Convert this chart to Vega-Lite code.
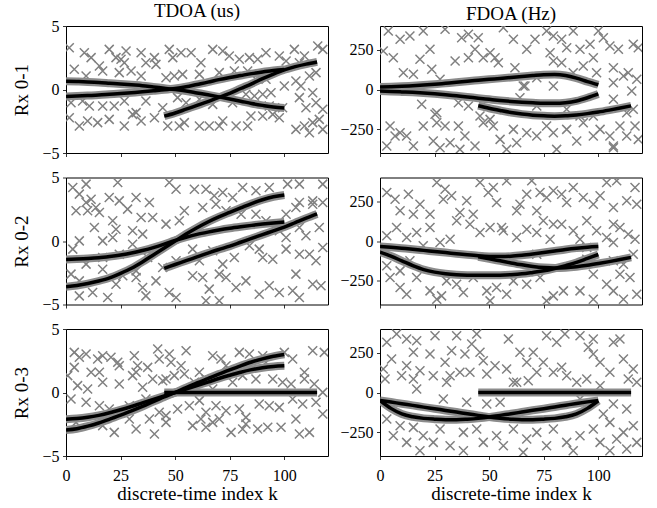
{
"$schema":"https://vega.github.io/schema/vega-lite/v6.json",
"padding":{"left":12,"top":1,"right":14,"bottom":4},
"config":{
"font":"Liberation Serif",
"view":{"stroke":"black","strokeWidth":1},
"axis":{"grid":false,"domain":false,"tickColor":"black","tickSize":3.5,"tickWidth":0.8,"labelColor":"black","labelFontSize":16,"labelFont":"Liberation Serif","labelPadding":3.5,"titleFont":"Liberation Serif","titleFontSize":19,"titleFontWeight":"normal","titleColor":"black"},
"axisY":{"titlePadding":10},
"axisX":{"titlePadding":1,"labelFlush":false,"labelPadding":8},
"title":{"font":"Liberation Serif","fontSize":19,"fontWeight":"normal","color":"black","offset":-3,"anchor":"middle"}
},
"datasets":{
"tracks":[
{"p":"a","t":"A","k":0,"v":0.65},{"p":"a","t":"A","k":5,"v":0.63},{"p":"a","t":"A","k":10,"v":0.6},{"p":"a","t":"A","k":15,"v":0.56},{"p":"a","t":"A","k":20,"v":0.5},{"p":"a","t":"A","k":25,"v":0.44},{"p":"a","t":"A","k":30,"v":0.37},{"p":"a","t":"A","k":35,"v":0.3},{"p":"a","t":"A","k":40,"v":0.2},{"p":"a","t":"A","k":45,"v":0.1},{"p":"a","t":"A","k":50,"v":0},{"p":"a","t":"A","k":55,"v":-0.12},{"p":"a","t":"A","k":60,"v":-0.27},{"p":"a","t":"A","k":65,"v":-0.42},{"p":"a","t":"A","k":70,"v":-0.58},{"p":"a","t":"A","k":75,"v":-0.75},{"p":"a","t":"A","k":80,"v":-0.92},{"p":"a","t":"A","k":85,"v":-1.1},{"p":"a","t":"A","k":90,"v":-1.25},{"p":"a","t":"A","k":95,"v":-1.38},{"p":"a","t":"A","k":100,"v":-1.45},
{"p":"a","t":"B","k":0,"v":-0.55},{"p":"a","t":"B","k":5,"v":-0.52},{"p":"a","t":"B","k":10,"v":-0.48},{"p":"a","t":"B","k":15,"v":-0.44},{"p":"a","t":"B","k":20,"v":-0.38},{"p":"a","t":"B","k":25,"v":-0.32},{"p":"a","t":"B","k":30,"v":-0.25},{"p":"a","t":"B","k":35,"v":-0.18},{"p":"a","t":"B","k":40,"v":-0.1},{"p":"a","t":"B","k":45,"v":-0.02},{"p":"a","t":"B","k":50,"v":0.08},{"p":"a","t":"B","k":55,"v":0.22},{"p":"a","t":"B","k":60,"v":0.4},{"p":"a","t":"B","k":65,"v":0.58},{"p":"a","t":"B","k":70,"v":0.78},{"p":"a","t":"B","k":75,"v":0.95},{"p":"a","t":"B","k":80,"v":1.1},{"p":"a","t":"B","k":85,"v":1.25},{"p":"a","t":"B","k":90,"v":1.38},{"p":"a","t":"B","k":95,"v":1.5},{"p":"a","t":"B","k":100,"v":1.57},
{"p":"a","t":"C","k":45,"v":-2.1},{"p":"a","t":"C","k":50,"v":-1.85},{"p":"a","t":"C","k":55,"v":-1.55},{"p":"a","t":"C","k":60,"v":-1.25},{"p":"a","t":"C","k":65,"v":-0.95},{"p":"a","t":"C","k":70,"v":-0.62},{"p":"a","t":"C","k":75,"v":-0.3},{"p":"a","t":"C","k":80,"v":0.08},{"p":"a","t":"C","k":85,"v":0.45},{"p":"a","t":"C","k":90,"v":0.85},{"p":"a","t":"C","k":95,"v":1.22},{"p":"a","t":"C","k":100,"v":1.55},{"p":"a","t":"C","k":105,"v":1.8},{"p":"a","t":"C","k":110,"v":2},{"p":"a","t":"C","k":115,"v":2.17},
{"p":"b","t":"D","k":0,"v":15},{"p":"b","t":"D","k":5,"v":17},{"p":"b","t":"D","k":10,"v":20},{"p":"b","t":"D","k":15,"v":24},{"p":"b","t":"D","k":20,"v":28},{"p":"b","t":"D","k":25,"v":33},{"p":"b","t":"D","k":30,"v":39},{"p":"b","t":"D","k":35,"v":45},{"p":"b","t":"D","k":40,"v":52},{"p":"b","t":"D","k":45,"v":58},{"p":"b","t":"D","k":50,"v":64},{"p":"b","t":"D","k":55,"v":70},{"p":"b","t":"D","k":60,"v":76},{"p":"b","t":"D","k":65,"v":82},{"p":"b","t":"D","k":70,"v":88},{"p":"b","t":"D","k":75,"v":93},{"p":"b","t":"D","k":80,"v":94},{"p":"b","t":"D","k":85,"v":88},{"p":"b","t":"D","k":90,"v":72},{"p":"b","t":"D","k":95,"v":50},{"p":"b","t":"D","k":100,"v":30},
{"p":"b","t":"E","k":0,"v":-10},{"p":"b","t":"E","k":5,"v":-12},{"p":"b","t":"E","k":10,"v":-15},{"p":"b","t":"E","k":15,"v":-18},{"p":"b","t":"E","k":20,"v":-22},{"p":"b","t":"E","k":25,"v":-27},{"p":"b","t":"E","k":30,"v":-33},{"p":"b","t":"E","k":35,"v":-40},{"p":"b","t":"E","k":40,"v":-47},{"p":"b","t":"E","k":45,"v":-55},{"p":"b","t":"E","k":50,"v":-62},{"p":"b","t":"E","k":55,"v":-69},{"p":"b","t":"E","k":60,"v":-75},{"p":"b","t":"E","k":65,"v":-80},{"p":"b","t":"E","k":70,"v":-84},{"p":"b","t":"E","k":75,"v":-87},{"p":"b","t":"E","k":80,"v":-87},{"p":"b","t":"E","k":85,"v":-83},{"p":"b","t":"E","k":90,"v":-72},{"p":"b","t":"E","k":95,"v":-52},{"p":"b","t":"E","k":100,"v":-28},
{"p":"b","t":"F","k":45,"v":-102},{"p":"b","t":"F","k":50,"v":-118},{"p":"b","t":"F","k":55,"v":-132},{"p":"b","t":"F","k":60,"v":-145},{"p":"b","t":"F","k":65,"v":-155},{"p":"b","t":"F","k":70,"v":-162},{"p":"b","t":"F","k":75,"v":-166},{"p":"b","t":"F","k":80,"v":-168},{"p":"b","t":"F","k":85,"v":-166},{"p":"b","t":"F","k":90,"v":-160},{"p":"b","t":"F","k":95,"v":-152},{"p":"b","t":"F","k":100,"v":-142},{"p":"b","t":"F","k":105,"v":-130},{"p":"b","t":"F","k":110,"v":-117},{"p":"b","t":"F","k":115,"v":-103},
{"p":"c","t":"G","k":0,"v":-1.45},{"p":"c","t":"G","k":5,"v":-1.42},{"p":"c","t":"G","k":10,"v":-1.38},{"p":"c","t":"G","k":15,"v":-1.32},{"p":"c","t":"G","k":20,"v":-1.22},{"p":"c","t":"G","k":25,"v":-1.1},{"p":"c","t":"G","k":30,"v":-0.95},{"p":"c","t":"G","k":35,"v":-0.75},{"p":"c","t":"G","k":40,"v":-0.52},{"p":"c","t":"G","k":45,"v":-0.25},{"p":"c","t":"G","k":50,"v":0.05},{"p":"c","t":"G","k":55,"v":0.3},{"p":"c","t":"G","k":60,"v":0.52},{"p":"c","t":"G","k":65,"v":0.7},{"p":"c","t":"G","k":70,"v":0.86},{"p":"c","t":"G","k":75,"v":1},{"p":"c","t":"G","k":80,"v":1.12},{"p":"c","t":"G","k":85,"v":1.23},{"p":"c","t":"G","k":90,"v":1.33},{"p":"c","t":"G","k":95,"v":1.42},{"p":"c","t":"G","k":100,"v":1.5},
{"p":"c","t":"H","k":0,"v":-3.6},{"p":"c","t":"H","k":5,"v":-3.5},{"p":"c","t":"H","k":10,"v":-3.35},{"p":"c","t":"H","k":15,"v":-3.15},{"p":"c","t":"H","k":20,"v":-2.9},{"p":"c","t":"H","k":25,"v":-2.55},{"p":"c","t":"H","k":30,"v":-2.15},{"p":"c","t":"H","k":35,"v":-1.65},{"p":"c","t":"H","k":40,"v":-1.1},{"p":"c","t":"H","k":45,"v":-0.55},{"p":"c","t":"H","k":50,"v":0},{"p":"c","t":"H","k":55,"v":0.55},{"p":"c","t":"H","k":60,"v":1.05},{"p":"c","t":"H","k":65,"v":1.5},{"p":"c","t":"H","k":70,"v":1.9},{"p":"c","t":"H","k":75,"v":2.25},{"p":"c","t":"H","k":80,"v":2.6},{"p":"c","t":"H","k":85,"v":2.95},{"p":"c","t":"H","k":90,"v":3.25},{"p":"c","t":"H","k":95,"v":3.48},{"p":"c","t":"H","k":100,"v":3.62},
{"p":"c","t":"I","k":45,"v":-2.15},{"p":"c","t":"I","k":50,"v":-1.85},{"p":"c","t":"I","k":55,"v":-1.55},{"p":"c","t":"I","k":60,"v":-1.25},{"p":"c","t":"I","k":65,"v":-0.95},{"p":"c","t":"I","k":70,"v":-0.67},{"p":"c","t":"I","k":75,"v":-0.4},{"p":"c","t":"I","k":80,"v":-0.1},{"p":"c","t":"I","k":85,"v":0.2},{"p":"c","t":"I","k":90,"v":0.5},{"p":"c","t":"I","k":95,"v":0.8},{"p":"c","t":"I","k":100,"v":1.1},{"p":"c","t":"I","k":105,"v":1.45},{"p":"c","t":"I","k":110,"v":1.8},{"p":"c","t":"I","k":115,"v":2.13},
{"p":"d","t":"J","k":0,"v":-35},{"p":"d","t":"J","k":5,"v":-40},{"p":"d","t":"J","k":10,"v":-46},{"p":"d","t":"J","k":15,"v":-52},{"p":"d","t":"J","k":20,"v":-59},{"p":"d","t":"J","k":25,"v":-66},{"p":"d","t":"J","k":30,"v":-73},{"p":"d","t":"J","k":35,"v":-80},{"p":"d","t":"J","k":40,"v":-87},{"p":"d","t":"J","k":45,"v":-93},{"p":"d","t":"J","k":50,"v":-97},{"p":"d","t":"J","k":55,"v":-98},{"p":"d","t":"J","k":60,"v":-96},{"p":"d","t":"J","k":65,"v":-90},{"p":"d","t":"J","k":70,"v":-82},{"p":"d","t":"J","k":75,"v":-73},{"p":"d","t":"J","k":80,"v":-63},{"p":"d","t":"J","k":85,"v":-53},{"p":"d","t":"J","k":90,"v":-45},{"p":"d","t":"J","k":95,"v":-39},{"p":"d","t":"J","k":100,"v":-35},
{"p":"d","t":"K","k":0,"v":-70},{"p":"d","t":"K","k":5,"v":-95},{"p":"d","t":"K","k":10,"v":-125},{"p":"d","t":"K","k":15,"v":-155},{"p":"d","t":"K","k":20,"v":-180},{"p":"d","t":"K","k":25,"v":-196},{"p":"d","t":"K","k":30,"v":-206},{"p":"d","t":"K","k":35,"v":-212},{"p":"d","t":"K","k":40,"v":-215},{"p":"d","t":"K","k":45,"v":-216},{"p":"d","t":"K","k":50,"v":-216},{"p":"d","t":"K","k":55,"v":-215},{"p":"d","t":"K","k":60,"v":-212},{"p":"d","t":"K","k":65,"v":-207},{"p":"d","t":"K","k":70,"v":-198},{"p":"d","t":"K","k":75,"v":-188},{"p":"d","t":"K","k":80,"v":-173},{"p":"d","t":"K","k":85,"v":-155},{"p":"d","t":"K","k":90,"v":-135},{"p":"d","t":"K","k":95,"v":-110},{"p":"d","t":"K","k":100,"v":-85},
{"p":"d","t":"L","k":45,"v":-100},{"p":"d","t":"L","k":50,"v":-112},{"p":"d","t":"L","k":55,"v":-125},{"p":"d","t":"L","k":60,"v":-138},{"p":"d","t":"L","k":65,"v":-150},{"p":"d","t":"L","k":70,"v":-160},{"p":"d","t":"L","k":75,"v":-167},{"p":"d","t":"L","k":80,"v":-170},{"p":"d","t":"L","k":85,"v":-168},{"p":"d","t":"L","k":90,"v":-162},{"p":"d","t":"L","k":95,"v":-153},{"p":"d","t":"L","k":100,"v":-142},{"p":"d","t":"L","k":105,"v":-130},{"p":"d","t":"L","k":110,"v":-117},{"p":"d","t":"L","k":115,"v":-103},
{"p":"e","t":"M","k":0,"v":-2.1},{"p":"e","t":"M","k":5,"v":-2.05},{"p":"e","t":"M","k":10,"v":-1.95},{"p":"e","t":"M","k":15,"v":-1.8},{"p":"e","t":"M","k":20,"v":-1.6},{"p":"e","t":"M","k":25,"v":-1.36},{"p":"e","t":"M","k":30,"v":-1.1},{"p":"e","t":"M","k":35,"v":-0.82},{"p":"e","t":"M","k":40,"v":-0.55},{"p":"e","t":"M","k":45,"v":-0.27},{"p":"e","t":"M","k":50,"v":0},{"p":"e","t":"M","k":55,"v":0.27},{"p":"e","t":"M","k":60,"v":0.55},{"p":"e","t":"M","k":65,"v":0.82},{"p":"e","t":"M","k":70,"v":1.1},{"p":"e","t":"M","k":75,"v":1.36},{"p":"e","t":"M","k":80,"v":1.6},{"p":"e","t":"M","k":85,"v":1.8},{"p":"e","t":"M","k":90,"v":1.95},{"p":"e","t":"M","k":95,"v":2.05},{"p":"e","t":"M","k":100,"v":2.1},
{"p":"e","t":"N","k":0,"v":-2.95},{"p":"e","t":"N","k":5,"v":-2.85},{"p":"e","t":"N","k":10,"v":-2.65},{"p":"e","t":"N","k":15,"v":-2.4},{"p":"e","t":"N","k":20,"v":-2.1},{"p":"e","t":"N","k":25,"v":-1.78},{"p":"e","t":"N","k":30,"v":-1.45},{"p":"e","t":"N","k":35,"v":-1.1},{"p":"e","t":"N","k":40,"v":-0.72},{"p":"e","t":"N","k":45,"v":-0.35},{"p":"e","t":"N","k":50,"v":0},{"p":"e","t":"N","k":55,"v":0.38},{"p":"e","t":"N","k":60,"v":0.75},{"p":"e","t":"N","k":65,"v":1.1},{"p":"e","t":"N","k":70,"v":1.45},{"p":"e","t":"N","k":75,"v":1.78},{"p":"e","t":"N","k":80,"v":2.1},{"p":"e","t":"N","k":85,"v":2.4},{"p":"e","t":"N","k":90,"v":2.65},{"p":"e","t":"N","k":95,"v":2.85},{"p":"e","t":"N","k":100,"v":3},
{"p":"e","t":"O","k":45,"v":0},{"p":"e","t":"O","k":55,"v":0},{"p":"e","t":"O","k":65,"v":0},{"p":"e","t":"O","k":75,"v":0},{"p":"e","t":"O","k":85,"v":0},{"p":"e","t":"O","k":95,"v":0},{"p":"e","t":"O","k":105,"v":0},{"p":"e","t":"O","k":115,"v":0},
{"p":"f","t":"P","k":0,"v":-50},{"p":"f","t":"P","k":5,"v":-60},{"p":"f","t":"P","k":10,"v":-71},{"p":"f","t":"P","k":15,"v":-81},{"p":"f","t":"P","k":20,"v":-92},{"p":"f","t":"P","k":25,"v":-102},{"p":"f","t":"P","k":30,"v":-113},{"p":"f","t":"P","k":35,"v":-123},{"p":"f","t":"P","k":40,"v":-134},{"p":"f","t":"P","k":45,"v":-144},{"p":"f","t":"P","k":50,"v":-155},{"p":"f","t":"P","k":55,"v":-163},{"p":"f","t":"P","k":60,"v":-168},{"p":"f","t":"P","k":65,"v":-171},{"p":"f","t":"P","k":70,"v":-171},{"p":"f","t":"P","k":75,"v":-168},{"p":"f","t":"P","k":80,"v":-163},{"p":"f","t":"P","k":85,"v":-153},{"p":"f","t":"P","k":90,"v":-135},{"p":"f","t":"P","k":95,"v":-100},{"p":"f","t":"P","k":100,"v":-52},
{"p":"f","t":"Q","k":0,"v":-50},{"p":"f","t":"Q","k":5,"v":-100},{"p":"f","t":"Q","k":10,"v":-135},{"p":"f","t":"Q","k":15,"v":-153},{"p":"f","t":"Q","k":20,"v":-163},{"p":"f","t":"Q","k":25,"v":-168},{"p":"f","t":"Q","k":30,"v":-171},{"p":"f","t":"Q","k":35,"v":-171},{"p":"f","t":"Q","k":40,"v":-168},{"p":"f","t":"Q","k":45,"v":-163},{"p":"f","t":"Q","k":50,"v":-155},{"p":"f","t":"Q","k":55,"v":-144},{"p":"f","t":"Q","k":60,"v":-134},{"p":"f","t":"Q","k":65,"v":-123},{"p":"f","t":"Q","k":70,"v":-112},{"p":"f","t":"Q","k":75,"v":-102},{"p":"f","t":"Q","k":80,"v":-91},{"p":"f","t":"Q","k":85,"v":-80},{"p":"f","t":"Q","k":90,"v":-69},{"p":"f","t":"Q","k":95,"v":-59},{"p":"f","t":"Q","k":100,"v":-50},
{"p":"f","t":"R","k":45,"v":0},{"p":"f","t":"R","k":55,"v":0},{"p":"f","t":"R","k":65,"v":0},{"p":"f","t":"R","k":75,"v":0},{"p":"f","t":"R","k":85,"v":0},{"p":"f","t":"R","k":95,"v":0},{"p":"f","t":"R","k":105,"v":0},{"p":"f","t":"R","k":115,"v":0}
],
"clutter":[
{"p":"a","k":1.5,"v":3.29},{"p":"a","k":8.4,"v":2.9},{"p":"a","k":11.5,"v":2.51},{"p":"a","k":15.3,"v":1.85},{"p":"a","k":19.8,"v":3.16},{"p":"a","k":22.9,"v":2.51},{"p":"a","k":25.2,"v":2.38},{"p":"a","k":27.5,"v":3.03},{"p":"a","k":26.7,"v":2.11},{"p":"a","k":34.4,"v":2.9},{"p":"a","k":36.6,"v":2.11},{"p":"a","k":40.5,"v":2.51},{"p":"a","k":41.2,"v":1.98},{"p":"a","k":47.3,"v":3.16},{"p":"a","k":48.9,"v":2.51},{"p":"a","k":52.7,"v":2.9},{"p":"a","k":57.3,"v":2.9},{"p":"a","k":61.8,"v":2.11},{"p":"a","k":67.2,"v":3.16},{"p":"a","k":71.8,"v":3.03},{"p":"a","k":74.8,"v":2.64},{"p":"a","k":79.4,"v":2.38},{"p":"a","k":84,"v":2.51},{"p":"a","k":87.8,"v":2.38},{"p":"a","k":91.6,"v":2.9},{"p":"a","k":97.7,"v":2.64},{"p":"a","k":100.8,"v":2.24},{"p":"a","k":104.6,"v":3.16},{"p":"a","k":109.2,"v":2.64},{"p":"a","k":115.3,"v":3.43},{"p":"a","k":117.6,"v":3.16},{"p":"a","k":106.9,"v":2.11},
{"p":"a","k":3.8,"v":1.59},{"p":"a","k":9.2,"v":1.06},{"p":"a","k":16.8,"v":1.46},{"p":"a","k":24.4,"v":1.33},{"p":"a","k":29.8,"v":1.46},{"p":"a","k":34.4,"v":1.06},{"p":"a","k":45.8,"v":0.93},{"p":"a","k":49.6,"v":1.06},{"p":"a","k":53.4,"v":1.19},{"p":"a","k":61.1,"v":1.19},{"p":"a","k":70.2,"v":1.33},{"p":"a","k":77.1,"v":1.46},{"p":"a","k":83.2,"v":1.46},{"p":"a","k":87,"v":0.8},{"p":"a","k":91.6,"v":0.8},{"p":"a","k":93.9,"v":-0.25},{"p":"a","k":100,"v":0.28},{"p":"a","k":105.3,"v":0.67},{"p":"a","k":111.5,"v":1.06},{"p":"a","k":114.5,"v":1.33},{"p":"a","k":107.6,"v":0.28},{"p":"a","k":113,"v":-0.25},
{"p":"a","k":2.3,"v":-1.04},{"p":"a","k":7.6,"v":-0.91},{"p":"a","k":10.7,"v":-1.3},{"p":"a","k":16.8,"v":-1.3},{"p":"a","k":22.1,"v":-1.3},{"p":"a","k":26.7,"v":-0.91},{"p":"a","k":32.1,"v":-1.82},{"p":"a","k":36.6,"v":-0.91},{"p":"a","k":44.3,"v":-1.43},{"p":"a","k":51.1,"v":-0.64},{"p":"a","k":55,"v":-1.04},{"p":"a","k":61.1,"v":-0.77},{"p":"a","k":67.2,"v":-1.17},{"p":"a","k":76.3,"v":-1.04},{"p":"a","k":82.4,"v":-0.38},{"p":"a","k":86.3,"v":-0.51},{"p":"a","k":90.1,"v":-0.38},{"p":"a","k":93.1,"v":-1.3},{"p":"a","k":99.2,"v":-1.43},{"p":"a","k":106.9,"v":-0.64},{"p":"a","k":109.9,"v":-1.43},{"p":"a","k":114.5,"v":-1.04},{"p":"a","k":117.6,"v":-1.56},
{"p":"a","k":1.5,"v":-2.22},{"p":"a","k":6.1,"v":-2.87},{"p":"a","k":9.9,"v":-2.48},{"p":"a","k":14.5,"v":-2.61},{"p":"a","k":19.8,"v":-2.35},{"p":"a","k":26.7,"v":-2.87},{"p":"a","k":30.5,"v":-1.96},{"p":"a","k":34.4,"v":-2.48},{"p":"a","k":40.5,"v":-2.22},{"p":"a","k":46.6,"v":-2.87},{"p":"a","k":51.9,"v":-2.87},{"p":"a","k":54.2,"v":-2.61},{"p":"a","k":61.1,"v":-2.87},{"p":"a","k":65.6,"v":-2.87},{"p":"a","k":70.2,"v":-2.87},{"p":"a","k":71.8,"v":-2.48},{"p":"a","k":77.9,"v":-2.87},{"p":"a","k":83.2,"v":-2.87},{"p":"a","k":84.7,"v":-2.09},{"p":"a","k":90.1,"v":-2.09},{"p":"a","k":94.7,"v":-1.96},{"p":"a","k":97.7,"v":-2.22},{"p":"a","k":105.3,"v":-3.14},{"p":"a","k":109.2,"v":-2.87},{"p":"a","k":113,"v":-2.61},{"p":"a","k":116,"v":-2.35},{"p":"a","k":117.6,"v":-3.14},{"p":"a","k":111.5,"v":-3.4},
{"p":"b","k":3.8,"v":368.5},{"p":"b","k":9.2,"v":316},{"p":"b","k":13.7,"v":337},{"p":"b","k":19.8,"v":368.5},{"p":"b","k":29.8,"v":379},{"p":"b","k":37.4,"v":326.5},{"p":"b","k":40.5,"v":347.5},{"p":"b","k":45,"v":326.5},{"p":"b","k":56.5,"v":389.5},{"p":"b","k":61.1,"v":316},{"p":"b","k":67.2,"v":253},{"p":"b","k":71,"v":316},{"p":"b","k":76.3,"v":368.5},{"p":"b","k":79.4,"v":337},{"p":"b","k":83.2,"v":316},{"p":"b","k":85.5,"v":263.5},{"p":"b","k":88.5,"v":368.5},{"p":"b","k":91.6,"v":253},{"p":"b","k":96.2,"v":284.5},{"p":"b","k":100,"v":368.5},{"p":"b","k":102.3,"v":326.5},{"p":"b","k":105.3,"v":274},{"p":"b","k":109.2,"v":253},{"p":"b","k":116,"v":284.5},{"p":"b","k":118.3,"v":263.5},
{"p":"b","k":1.5,"v":242.5},{"p":"b","k":6.1,"v":200.5},{"p":"b","k":10.7,"v":106},{"p":"b","k":15.3,"v":95.5},{"p":"b","k":18.3,"v":190},{"p":"b","k":22.9,"v":253},{"p":"b","k":23.7,"v":127},{"p":"b","k":27.5,"v":64},{"p":"b","k":34.4,"v":179.5},{"p":"b","k":40.5,"v":200.5},{"p":"b","k":43.5,"v":253},{"p":"b","k":47.3,"v":200.5},{"p":"b","k":50.4,"v":232},{"p":"b","k":52.7,"v":200.5},{"p":"b","k":54.2,"v":169},{"p":"b","k":61.8,"v":137.5},{"p":"b","k":65.6,"v":22},{"p":"b","k":71.8,"v":74.5},{"p":"b","k":77.9,"v":232},{"p":"b","k":79.4,"v":179.5},{"p":"b","k":83.2,"v":169},{"p":"b","k":88.5,"v":106},{"p":"b","k":93.1,"v":148},{"p":"b","k":97.7,"v":200.5},{"p":"b","k":99.2,"v":106},{"p":"b","k":106.9,"v":137.5},{"p":"b","k":111.5,"v":85},{"p":"b","k":113.7,"v":106},{"p":"b","k":117.6,"v":64},{"p":"b","k":106.9,"v":43},{"p":"b","k":115.3,"v":-9.5},{"p":"b","k":79.4,"v":22},{"p":"b","k":66.4,"v":22},
{"p":"b","k":19.1,"v":-93.5},{"p":"b","k":25.2,"v":-156.5},{"p":"b","k":26,"v":-146},{"p":"b","k":35.9,"v":-83},{"p":"b","k":40.5,"v":-104},{"p":"b","k":45.8,"v":-167},{"p":"b","k":50.4,"v":-188},{"p":"b","k":64.1,"v":-51.5},{"p":"b","k":71.8,"v":-104},{"p":"b","k":85.5,"v":-125},{"p":"b","k":91.6,"v":-167},{"p":"b","k":97.7,"v":-167},{"p":"b","k":106.9,"v":-62},{"p":"b","k":116,"v":-125},{"p":"b","k":113,"v":-146},
{"p":"b","k":4.6,"v":-230},{"p":"b","k":6.9,"v":-293},{"p":"b","k":9.2,"v":-272},{"p":"b","k":12.2,"v":-293},{"p":"b","k":19.8,"v":-230},{"p":"b","k":24.4,"v":-324.5},{"p":"b","k":26,"v":-209},{"p":"b","k":29.8,"v":-230},{"p":"b","k":32.1,"v":-335},{"p":"b","k":35.9,"v":-230},{"p":"b","k":38.9,"v":-293},{"p":"b","k":43.5,"v":-356},{"p":"b","k":47.3,"v":-209},{"p":"b","k":51.9,"v":-230},{"p":"b","k":55,"v":-314},{"p":"b","k":61.1,"v":-251},{"p":"b","k":62.6,"v":-335},{"p":"b","k":67.2,"v":-272},{"p":"b","k":71.8,"v":-293},{"p":"b","k":76.3,"v":-230},{"p":"b","k":79.4,"v":-272},{"p":"b","k":85.5,"v":-251},{"p":"b","k":90.1,"v":-324.5},{"p":"b","k":93.1,"v":-209},{"p":"b","k":97.7,"v":-293},{"p":"b","k":100.8,"v":-251},{"p":"b","k":105.3,"v":-293},{"p":"b","k":106.9,"v":-356},{"p":"b","k":109.9,"v":-230},{"p":"b","k":113,"v":-293},{"p":"b","k":116.8,"v":-230},{"p":"b","k":118.3,"v":-314},{"p":"b","k":3.1,"v":-356},{"p":"b","k":15.3,"v":-356},{"p":"b","k":27.5,"v":-366.5},{"p":"b","k":36.6,"v":-377},{"p":"b","k":58,"v":-377},{"p":"b","k":80.9,"v":-377},{"p":"b","k":106.9,"v":-366.5},
{"p":"c","k":3.1,"v":4.21},{"p":"c","k":9.2,"v":4.48},{"p":"c","k":6.1,"v":3.69},{"p":"c","k":11.5,"v":3.29},{"p":"c","k":23.7,"v":4.61},{"p":"c","k":19.8,"v":3.43},{"p":"c","k":24.4,"v":3.16},{"p":"c","k":32.1,"v":3.43},{"p":"c","k":38.2,"v":3.03},{"p":"c","k":47.3,"v":4.61},{"p":"c","k":50.4,"v":4.08},{"p":"c","k":58.8,"v":4.08},{"p":"c","k":64.1,"v":4.08},{"p":"c","k":67.9,"v":3.56},{"p":"c","k":71.8,"v":3.82},{"p":"c","k":76.3,"v":3.43},{"p":"c","k":80.9,"v":4.21},{"p":"c","k":87,"v":3.95},{"p":"c","k":93.1,"v":4.21},{"p":"c","k":101.5,"v":4.48},{"p":"c","k":106.9,"v":3.03},{"p":"c","k":113,"v":3.16},{"p":"c","k":117.6,"v":4.48},{"p":"c","k":106.9,"v":4.48},{"p":"c","k":9.2,"v":3.03},{"p":"c","k":13.7,"v":2.64},{"p":"c","k":117.6,"v":3.03},
{"p":"c","k":4.6,"v":2.38},{"p":"c","k":9.9,"v":2.38},{"p":"c","k":15.3,"v":2.24},{"p":"c","k":21.4,"v":1.59},{"p":"c","k":28.2,"v":2.51},{"p":"c","k":34.4,"v":1.85},{"p":"c","k":39.7,"v":1.85},{"p":"c","k":45.8,"v":1.33},{"p":"c","k":51.9,"v":1.59},{"p":"c","k":54.2,"v":2.38},{"p":"c","k":62.6,"v":2.64},{"p":"c","k":68.7,"v":2.9},{"p":"c","k":73.3,"v":2.38},{"p":"c","k":80.2,"v":2.11},{"p":"c","k":87,"v":2.11},{"p":"c","k":91.6,"v":1.59},{"p":"c","k":100.8,"v":2.11},{"p":"c","k":105.3,"v":2.64},{"p":"c","k":113,"v":2.9},{"p":"c","k":116,"v":1.06},{"p":"c","k":109.9,"v":0.41},{"p":"c","k":100.8,"v":0.28},{"p":"c","k":6.1,"v":0.01},{"p":"c","k":13,"v":1.06},{"p":"c","k":22.9,"v":0.93},{"p":"c","k":30.5,"v":0.8},{"p":"c","k":35.1,"v":0.54},{"p":"c","k":21.4,"v":0.28},{"p":"c","k":16.8,"v":0.01},{"p":"c","k":97.7,"v":0.8},{"p":"c","k":106.9,"v":1.06},
{"p":"c","k":3.1,"v":-0.64},{"p":"c","k":9.2,"v":-1.82},{"p":"c","k":16.8,"v":-1.3},{"p":"c","k":24.4,"v":-1.04},{"p":"c","k":30.5,"v":-0.25},{"p":"c","k":37.4,"v":-1.3},{"p":"c","k":44.3,"v":-2.09},{"p":"c","k":50.4,"v":-1.56},{"p":"c","k":58,"v":-0.64},{"p":"c","k":61.1,"v":-1.56},{"p":"c","k":67.2,"v":-0.77},{"p":"c","k":71.8,"v":-1.82},{"p":"c","k":77.1,"v":-1.3},{"p":"c","k":84,"v":-0.38},{"p":"c","k":88.5,"v":-0.64},{"p":"c","k":94.7,"v":-1.43},{"p":"c","k":100.8,"v":-0.64},{"p":"c","k":106.9,"v":-1.04},{"p":"c","k":111.5,"v":-1.04},{"p":"c","k":114.5,"v":-1.56},{"p":"c","k":117.6,"v":-0.51},{"p":"c","k":90.1,"v":-1.3},{"p":"c","k":16.8,"v":-2.22},{"p":"c","k":32.1,"v":-2.35},
{"p":"c","k":2.3,"v":-2.61},{"p":"c","k":6.1,"v":-4.32},{"p":"c","k":12.2,"v":-4.06},{"p":"c","k":19.1,"v":-4.45},{"p":"c","k":22.9,"v":-3.4},{"p":"c","k":26,"v":-2.74},{"p":"c","k":32.1,"v":-2.87},{"p":"c","k":35.1,"v":-3.66},{"p":"c","k":41.2,"v":-3.14},{"p":"c","k":47.3,"v":-4.06},{"p":"c","k":50.4,"v":-4.45},{"p":"c","k":58,"v":-2.74},{"p":"c","k":62.6,"v":-2.87},{"p":"c","k":65.6,"v":-3.79},{"p":"c","k":70.2,"v":-2.61},{"p":"c","k":73.3,"v":-2.87},{"p":"c","k":77.9,"v":-3.66},{"p":"c","k":82.4,"v":-3.14},{"p":"c","k":88.5,"v":-4.19},{"p":"c","k":93.1,"v":-3.53},{"p":"c","k":97.7,"v":-4.06},{"p":"c","k":103.8,"v":-3.92},{"p":"c","k":106.9,"v":-4.45},{"p":"c","k":113,"v":-3.4},{"p":"c","k":116.8,"v":-3.53},{"p":"c","k":105.3,"v":-2.61},{"p":"c","k":6.1,"v":-3.14},{"p":"c","k":64.1,"v":-4.71},{"p":"c","k":70.2,"v":-4.71},{"p":"c","k":36.6,"v":-4.32},
{"p":"d","k":3.1,"v":305.5},{"p":"d","k":6.9,"v":263.5},{"p":"d","k":13,"v":295},{"p":"d","k":26,"v":368.5},{"p":"d","k":29.8,"v":326.5},{"p":"d","k":32.8,"v":284.5},{"p":"d","k":29,"v":263.5},{"p":"d","k":39.7,"v":253},{"p":"d","k":45.8,"v":368.5},{"p":"d","k":49.6,"v":305.5},{"p":"d","k":51.9,"v":337},{"p":"d","k":53.4,"v":242.5},{"p":"d","k":58,"v":379},{"p":"d","k":62.6,"v":190},{"p":"d","k":64.1,"v":232},{"p":"d","k":67.2,"v":295},{"p":"d","k":69.5,"v":379},{"p":"d","k":73.3,"v":305.5},{"p":"d","k":76.3,"v":274},{"p":"d","k":79.4,"v":316},{"p":"d","k":83.2,"v":295},{"p":"d","k":85.5,"v":242.5},{"p":"d","k":88.5,"v":337},{"p":"d","k":93.1,"v":274},{"p":"d","k":97.7,"v":232},{"p":"d","k":100.8,"v":284.5},{"p":"d","k":103.8,"v":368.5},{"p":"d","k":108.4,"v":379},{"p":"d","k":113,"v":253},{"p":"d","k":116.8,"v":337},{"p":"d","k":117.6,"v":232},{"p":"d","k":106.9,"v":211},{"p":"d","k":9.2,"v":190},{"p":"d","k":18.3,"v":232},{"p":"d","k":15.3,"v":169},{"p":"d","k":22.9,"v":169},{"p":"d","k":36.6,"v":179.5},{"p":"d","k":42.7,"v":169},{"p":"d","k":71.8,"v":190},
{"p":"d","k":3.1,"v":32.5},{"p":"d","k":7.6,"v":85},{"p":"d","k":12.2,"v":22},{"p":"d","k":16.8,"v":53.5},{"p":"d","k":22.9,"v":85},{"p":"d","k":27.5,"v":-9.5},{"p":"d","k":32.1,"v":11.5},{"p":"d","k":35.1,"v":127},{"p":"d","k":41.2,"v":106},{"p":"d","k":45.8,"v":53.5},{"p":"d","k":50.4,"v":85},{"p":"d","k":55.7,"v":85},{"p":"d","k":56.5,"v":64},{"p":"d","k":62.6,"v":22},{"p":"d","k":67.2,"v":74.5},{"p":"d","k":71.8,"v":53.5},{"p":"d","k":74.8,"v":127},{"p":"d","k":79.4,"v":106},{"p":"d","k":83.2,"v":106},{"p":"d","k":88.5,"v":64},{"p":"d","k":94.7,"v":127},{"p":"d","k":99.2,"v":64},{"p":"d","k":103.8,"v":22},{"p":"d","k":106.9,"v":106},{"p":"d","k":109.9,"v":85},{"p":"d","k":113.7,"v":43},{"p":"d","k":116.8,"v":11.5},{"p":"d","k":91.6,"v":11.5},{"p":"d","k":19.8,"v":-30.5},{"p":"d","k":77.9,"v":11.5},{"p":"d","k":94.7,"v":-41},{"p":"d","k":106.9,"v":-9.5},
{"p":"d","k":3.1,"v":-156.5},{"p":"d","k":9.2,"v":-188},{"p":"d","k":13.7,"v":-125},{"p":"d","k":71.8,"v":-83},{"p":"d","k":94.7,"v":-114.5},{"p":"d","k":106.9,"v":-125},{"p":"d","k":116,"v":-83},{"p":"d","k":111.5,"v":-146},
{"p":"d","k":4.6,"v":-230},{"p":"d","k":9.2,"v":-293},{"p":"d","k":12.2,"v":-335},{"p":"d","k":16.8,"v":-230},{"p":"d","k":22.9,"v":-314},{"p":"d","k":28.2,"v":-345.5},{"p":"d","k":30.5,"v":-251},{"p":"d","k":35.1,"v":-272},{"p":"d","k":38.2,"v":-324.5},{"p":"d","k":42.7,"v":-230},{"p":"d","k":48.9,"v":-314},{"p":"d","k":53.4,"v":-293},{"p":"d","k":58,"v":-335},{"p":"d","k":61.1,"v":-251},{"p":"d","k":67.2,"v":-272},{"p":"d","k":73.3,"v":-230},{"p":"d","k":79.4,"v":-345.5},{"p":"d","k":84,"v":-314},{"p":"d","k":91.6,"v":-314},{"p":"d","k":97.7,"v":-209},{"p":"d","k":103.8,"v":-272},{"p":"d","k":106.9,"v":-314},{"p":"d","k":109.9,"v":-209},{"p":"d","k":114.5,"v":-230},{"p":"d","k":117.6,"v":-335},{"p":"d","k":111.5,"v":-366.5},{"p":"d","k":97.7,"v":-366.5},{"p":"d","k":76.3,"v":-377},{"p":"d","k":50.4,"v":-377},{"p":"d","k":26,"v":-366.5},
{"p":"e","k":3.8,"v":3.16},{"p":"e","k":6.1,"v":2.77},{"p":"e","k":9.2,"v":3.03},{"p":"e","k":14.5,"v":2.64},{"p":"e","k":16.8,"v":2.9},{"p":"e","k":20.6,"v":2.77},{"p":"e","k":23.7,"v":2.38},{"p":"e","k":31.3,"v":2.9},{"p":"e","k":32.8,"v":2.11},{"p":"e","k":37.4,"v":1.98},{"p":"e","k":42,"v":3.43},{"p":"e","k":42.7,"v":2.64},{"p":"e","k":47.3,"v":3.03},{"p":"e","k":48.1,"v":2.38},{"p":"e","k":52.7,"v":2.11},{"p":"e","k":55,"v":3.29},{"p":"e","k":61.1,"v":1.59},{"p":"e","k":67.2,"v":2.9},{"p":"e","k":71,"v":2.64},{"p":"e","k":73.3,"v":2.11},{"p":"e","k":79.4,"v":3.16},{"p":"e","k":84,"v":3.03},{"p":"e","k":90.1,"v":2.9},{"p":"e","k":91.6,"v":2.38},{"p":"e","k":100,"v":3.16},{"p":"e","k":103.8,"v":2.64},{"p":"e","k":109.2,"v":1.59},{"p":"e","k":113,"v":3.29},{"p":"e","k":118.3,"v":3.16},{"p":"e","k":3.8,"v":1.98},{"p":"e","k":11.5,"v":1.59},{"p":"e","k":15.3,"v":1.59},{"p":"e","k":32.1,"v":1.59},{"p":"e","k":24.4,"v":2.11},
{"p":"e","k":0.8,"v":1.33},{"p":"e","k":5.3,"v":0.54},{"p":"e","k":9.9,"v":0.28},{"p":"e","k":16.8,"v":0.8},{"p":"e","k":24.4,"v":0.67},{"p":"e","k":30.5,"v":1.33},{"p":"e","k":35.1,"v":0.41},{"p":"e","k":39.7,"v":1.06},{"p":"e","k":44.3,"v":0.93},{"p":"e","k":49.6,"v":1.33},{"p":"e","k":54.2,"v":1.46},{"p":"e","k":58.8,"v":0.8},{"p":"e","k":64.1,"v":1.06},{"p":"e","k":67.2,"v":0.28},{"p":"e","k":76.3,"v":0.8},{"p":"e","k":80.9,"v":1.33},{"p":"e","k":87,"v":1.06},{"p":"e","k":94.7,"v":1.06},{"p":"e","k":99.2,"v":0.8},{"p":"e","k":103.1,"v":0.67},{"p":"e","k":109.2,"v":1.06},{"p":"e","k":113.7,"v":0.67},{"p":"e","k":117.6,"v":0.01},{"p":"e","k":45.8,"v":1.06},
{"p":"e","k":2.3,"v":-0.51},{"p":"e","k":9.2,"v":-0.77},{"p":"e","k":15.3,"v":-1.04},{"p":"e","k":19.8,"v":-1.3},{"p":"e","k":29,"v":-1.04},{"p":"e","k":36.6,"v":-0.51},{"p":"e","k":42.7,"v":-1.56},{"p":"e","k":45.8,"v":-1.82},{"p":"e","k":51.1,"v":-1.3},{"p":"e","k":56.5,"v":-1.04},{"p":"e","k":61.1,"v":-0.64},{"p":"e","k":64.1,"v":-1.56},{"p":"e","k":68.7,"v":-1.04},{"p":"e","k":73.3,"v":-1.43},{"p":"e","k":79.4,"v":-1.3},{"p":"e","k":82.4,"v":-1.96},{"p":"e","k":88.5,"v":-0.91},{"p":"e","k":93.1,"v":-1.04},{"p":"e","k":97.7,"v":-1.17},{"p":"e","k":103.8,"v":-0.51},{"p":"e","k":108.4,"v":-0.91},{"p":"e","k":114.5,"v":-0.77},{"p":"e","k":117.6,"v":-1.69},{"p":"e","k":70.2,"v":-2.09},{"p":"e","k":61.8,"v":-2.09},{"p":"e","k":29,"v":-2.09},{"p":"e","k":38.2,"v":-2.09},{"p":"e","k":105.3,"v":-2.09},
{"p":"e","k":4.6,"v":-2.35},{"p":"e","k":16.8,"v":-2.61},{"p":"e","k":22.1,"v":-3.14},{"p":"e","k":32.1,"v":-2.87},{"p":"e","k":40.5,"v":-3.27},{"p":"e","k":45.8,"v":-2.35},{"p":"e","k":58,"v":-2.61},{"p":"e","k":64.1,"v":-2.74},{"p":"e","k":67.2,"v":-2.35},{"p":"e","k":75.6,"v":-3.14},{"p":"e","k":82.4,"v":-2.48},{"p":"e","k":87.8,"v":-2.87},{"p":"e","k":92.4,"v":-2.74},{"p":"e","k":98.5,"v":-2.74},{"p":"e","k":106.9,"v":-3.27},{"p":"e","k":111.5,"v":-3.14},{"p":"e","k":80.9,"v":-2.87},
{"p":"f","k":3.1,"v":316},{"p":"f","k":5.3,"v":211},{"p":"f","k":7.6,"v":368.5},{"p":"f","k":12.2,"v":337},{"p":"f","k":15.3,"v":253},{"p":"f","k":16.8,"v":326.5},{"p":"f","k":22.9,"v":242.5},{"p":"f","k":25.2,"v":358},{"p":"f","k":29.8,"v":190},{"p":"f","k":32.8,"v":263.5},{"p":"f","k":35.1,"v":358},{"p":"f","k":38.9,"v":242.5},{"p":"f","k":42,"v":305.5},{"p":"f","k":44.3,"v":368.5},{"p":"f","k":45.8,"v":253},{"p":"f","k":47.3,"v":200.5},{"p":"f","k":52.7,"v":169},{"p":"f","k":58.8,"v":337},{"p":"f","k":64.1,"v":253},{"p":"f","k":67.2,"v":190},{"p":"f","k":70.2,"v":253},{"p":"f","k":74.8,"v":190},{"p":"f","k":76.3,"v":358},{"p":"f","k":80.9,"v":316},{"p":"f","k":83.2,"v":158.5},{"p":"f","k":84.7,"v":368.5},{"p":"f","k":91.6,"v":358},{"p":"f","k":95.4,"v":284.5},{"p":"f","k":97.7,"v":337},{"p":"f","k":100.8,"v":190},{"p":"f","k":106.9,"v":316},{"p":"f","k":109.9,"v":337},{"p":"f","k":111.5,"v":211},{"p":"f","k":116,"v":148},{"p":"f","k":97.7,"v":242.5},{"p":"f","k":36.6,"v":127},{"p":"f","k":1.5,"v":148},{"p":"f","k":12.2,"v":169},
{"p":"f","k":2.3,"v":85},{"p":"f","k":9.9,"v":106},{"p":"f","k":15.3,"v":85},{"p":"f","k":18.3,"v":137.5},{"p":"f","k":24.4,"v":106},{"p":"f","k":32.1,"v":106},{"p":"f","k":41.2,"v":127},{"p":"f","k":48.9,"v":116.5},{"p":"f","k":58,"v":148},{"p":"f","k":62.6,"v":64},{"p":"f","k":67.9,"v":74.5},{"p":"f","k":71.8,"v":127},{"p":"f","k":79.4,"v":127},{"p":"f","k":85.5,"v":106},{"p":"f","k":90.1,"v":64},{"p":"f","k":94.7,"v":85},{"p":"f","k":100.8,"v":43},{"p":"f","k":105.3,"v":127},{"p":"f","k":113.7,"v":85},{"p":"f","k":117.6,"v":64},{"p":"f","k":16.8,"v":22},{"p":"f","k":30.5,"v":64},{"p":"f","k":61.1,"v":64},
{"p":"f","k":29,"v":-41},{"p":"f","k":39.7,"v":-62},{"p":"f","k":48.9,"v":-72.5},{"p":"f","k":55,"v":-62},{"p":"f","k":91.6,"v":-41},{"p":"f","k":106.9,"v":-72.5},{"p":"f","k":113,"v":-104},{"p":"f","k":102.3,"v":-135.5},
{"p":"f","k":3.1,"v":-167},{"p":"f","k":6.1,"v":-272},{"p":"f","k":9.2,"v":-209},{"p":"f","k":12.2,"v":-314},{"p":"f","k":15.3,"v":-219.5},{"p":"f","k":19.8,"v":-272},{"p":"f","k":24.4,"v":-314},{"p":"f","k":27.5,"v":-230},{"p":"f","k":32.1,"v":-335},{"p":"f","k":38.2,"v":-251},{"p":"f","k":44.3,"v":-230},{"p":"f","k":47.3,"v":-314},{"p":"f","k":53.4,"v":-272},{"p":"f","k":56.5,"v":-335},{"p":"f","k":61.1,"v":-230},{"p":"f","k":67.2,"v":-293},{"p":"f","k":71.8,"v":-251},{"p":"f","k":76.3,"v":-335},{"p":"f","k":79.4,"v":-230},{"p":"f","k":85.5,"v":-314},{"p":"f","k":91.6,"v":-272},{"p":"f","k":97.7,"v":-230},{"p":"f","k":100.8,"v":-314},{"p":"f","k":105.3,"v":-188},{"p":"f","k":108.4,"v":-293},{"p":"f","k":111.5,"v":-251},{"p":"f","k":116,"v":-209},{"p":"f","k":117.6,"v":-314},{"p":"f","k":113,"v":-356},{"p":"f","k":18.3,"v":-366.5},{"p":"f","k":38.2,"v":-366.5},{"p":"f","k":65.6,"v":-377},{"p":"f","k":88.5,"v":-366.5},{"p":"f","k":105.3,"v":-366.5}
]
},
"bounds":"flush",
"columns":2,
"spacing":{"row":24.5,"column":52},
"concat":[
{"width":262,"height":127,"title":{"text":"TDOA (us)","offset":-3},
"encoding":{"x":{"field":"k","type":"quantitative","scale":{"domain":[0,120],"nice":false,"zero":false},"axis":{"values":[0,25,50,75,100],"labels":false,"title":null}},
"y":{"field":"v","type":"quantitative","scale":{"domain":[-5,5],"nice":false},"axis":{"values":[-5,0,5],"title":"Rx 0-1"}}},
"layer":[
{"data":{"name":"clutter"},"transform":[{"filter":"datum.p=='a'"}],"mark":{"type":"point","shape":"M-1,-1L1,1M1,-1L-1,1","filled":false,"color":"#808080","strokeWidth":1.5,"size":81,"opacity":1,"clip":true}},
{"data":{"name":"tracks"},"transform":[{"filter":"datum.p=='a'"}],"mark":{"type":"line","color":"#8c8c8c","strokeWidth":8,"interpolate":"monotone","clip":true},"encoding":{"detail":{"field":"t"}}},
{"data":{"name":"tracks"},"transform":[{"filter":"datum.p=='a'"}],"mark":{"type":"line","color":"black","strokeWidth":3.5,"interpolate":"monotone","clip":true},"encoding":{"detail":{"field":"t"}}}
]},
{"width":262,"height":127,"title":{"text":"FDOA (Hz)","offset":2},
"encoding":{"x":{"field":"k","type":"quantitative","scale":{"domain":[0,120],"nice":false,"zero":false},"axis":{"values":[0,25,50,75,100],"labels":false,"title":null}},
"y":{"field":"v","type":"quantitative","scale":{"domain":[-400,400],"nice":false},"axis":{"values":[-250,0,250],"title":null}}},
"layer":[
{"data":{"name":"clutter"},"transform":[{"filter":"datum.p=='b'"}],"mark":{"type":"point","shape":"M-1,-1L1,1M1,-1L-1,1","filled":false,"color":"#808080","strokeWidth":1.5,"size":81,"opacity":1,"clip":true}},
{"data":{"name":"tracks"},"transform":[{"filter":"datum.p=='b'"}],"mark":{"type":"line","color":"#8c8c8c","strokeWidth":8,"interpolate":"monotone","clip":true},"encoding":{"detail":{"field":"t"}}},
{"data":{"name":"tracks"},"transform":[{"filter":"datum.p=='b'"}],"mark":{"type":"line","color":"black","strokeWidth":3.5,"interpolate":"monotone","clip":true},"encoding":{"detail":{"field":"t"}}}
]},
{"width":262,"height":127,
"encoding":{"x":{"field":"k","type":"quantitative","scale":{"domain":[0,120],"nice":false,"zero":false},"axis":{"values":[0,25,50,75,100],"labels":false,"title":null}},
"y":{"field":"v","type":"quantitative","scale":{"domain":[-5,5],"nice":false},"axis":{"values":[-5,0,5],"title":"Rx 0-2"}}},
"layer":[
{"data":{"name":"clutter"},"transform":[{"filter":"datum.p=='c'"}],"mark":{"type":"point","shape":"M-1,-1L1,1M1,-1L-1,1","filled":false,"color":"#808080","strokeWidth":1.5,"size":81,"opacity":1,"clip":true}},
{"data":{"name":"tracks"},"transform":[{"filter":"datum.p=='c'"}],"mark":{"type":"line","color":"#8c8c8c","strokeWidth":8,"interpolate":"monotone","clip":true},"encoding":{"detail":{"field":"t"}}},
{"data":{"name":"tracks"},"transform":[{"filter":"datum.p=='c'"}],"mark":{"type":"line","color":"black","strokeWidth":3.5,"interpolate":"monotone","clip":true},"encoding":{"detail":{"field":"t"}}}
]},
{"width":262,"height":127,
"encoding":{"x":{"field":"k","type":"quantitative","scale":{"domain":[0,120],"nice":false,"zero":false},"axis":{"values":[0,25,50,75,100],"labels":false,"title":null}},
"y":{"field":"v","type":"quantitative","scale":{"domain":[-400,400],"nice":false},"axis":{"values":[-250,0,250],"title":null}}},
"layer":[
{"data":{"name":"clutter"},"transform":[{"filter":"datum.p=='d'"}],"mark":{"type":"point","shape":"M-1,-1L1,1M1,-1L-1,1","filled":false,"color":"#808080","strokeWidth":1.5,"size":81,"opacity":1,"clip":true}},
{"data":{"name":"tracks"},"transform":[{"filter":"datum.p=='d'"}],"mark":{"type":"line","color":"#8c8c8c","strokeWidth":8,"interpolate":"monotone","clip":true},"encoding":{"detail":{"field":"t"}}},
{"data":{"name":"tracks"},"transform":[{"filter":"datum.p=='d'"}],"mark":{"type":"line","color":"black","strokeWidth":3.5,"interpolate":"monotone","clip":true},"encoding":{"detail":{"field":"t"}}}
]},
{"width":262,"height":127,
"encoding":{"x":{"field":"k","type":"quantitative","scale":{"domain":[0,120],"nice":false,"zero":false},"axis":{"values":[0,25,50,75,100],"title":"discrete-time index k"}},
"y":{"field":"v","type":"quantitative","scale":{"domain":[-5,5],"nice":false},"axis":{"values":[-5,0,5],"title":"Rx 0-3"}}},
"layer":[
{"data":{"name":"clutter"},"transform":[{"filter":"datum.p=='e'"}],"mark":{"type":"point","shape":"M-1,-1L1,1M1,-1L-1,1","filled":false,"color":"#808080","strokeWidth":1.5,"size":81,"opacity":1,"clip":true}},
{"data":{"name":"tracks"},"transform":[{"filter":"datum.p=='e'"}],"mark":{"type":"line","color":"#8c8c8c","strokeWidth":8,"interpolate":"monotone","clip":true},"encoding":{"detail":{"field":"t"}}},
{"data":{"name":"tracks"},"transform":[{"filter":"datum.p=='e'"}],"mark":{"type":"line","color":"black","strokeWidth":3.5,"interpolate":"monotone","clip":true},"encoding":{"detail":{"field":"t"}}}
]},
{"width":262,"height":127,
"encoding":{"x":{"field":"k","type":"quantitative","scale":{"domain":[0,120],"nice":false,"zero":false},"axis":{"values":[0,25,50,75,100],"title":"discrete-time index k"}},
"y":{"field":"v","type":"quantitative","scale":{"domain":[-400,400],"nice":false},"axis":{"values":[-250,0,250],"title":null}}},
"layer":[
{"data":{"name":"clutter"},"transform":[{"filter":"datum.p=='f'"}],"mark":{"type":"point","shape":"M-1,-1L1,1M1,-1L-1,1","filled":false,"color":"#808080","strokeWidth":1.5,"size":81,"opacity":1,"clip":true}},
{"data":{"name":"tracks"},"transform":[{"filter":"datum.p=='f'"}],"mark":{"type":"line","color":"#8c8c8c","strokeWidth":8,"interpolate":"monotone","clip":true},"encoding":{"detail":{"field":"t"}}},
{"data":{"name":"tracks"},"transform":[{"filter":"datum.p=='f'"}],"mark":{"type":"line","color":"black","strokeWidth":3.5,"interpolate":"monotone","clip":true},"encoding":{"detail":{"field":"t"}}}
]}
]
}
